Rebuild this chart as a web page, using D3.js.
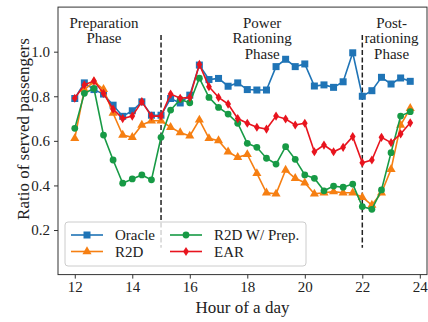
<!DOCTYPE html>
<html>
<head>
<meta charset="utf-8">
<script src="https://cdn.jsdelivr.net/npm/d3@7"></script>
<style>
  body { margin: 0; background: #fff; }
  text { font-family: "Liberation Serif", "Times New Roman", serif; fill: #222; }
</style>
</head>
<body>
<div id="chart"></div>
<script>
// Hour of a day (one point every 20 minutes)
const hours = [12.000, 12.333, 12.667, 13.000, 13.333, 13.667, 14.000, 14.333, 14.667,
               15.000, 15.333, 15.667, 16.000, 16.333, 16.667, 17.000, 17.333, 17.667,
               18.000, 18.333, 18.667, 19.000, 19.333, 19.667, 20.000, 20.333, 20.667,
               21.000, 21.333, 21.667, 22.000, 22.333, 22.667, 23.000, 23.333, 23.667];

const oracle = [0.79, 0.86, 0.83, 0.81, 0.76, 0.71, 0.735, 0.775, 0.715, 0.715, 0.79, 0.77,
                0.805, 0.94, 0.875, 0.88, 0.845, 0.86, 0.83, 0.828, 0.828, 0.933, 0.966, 0.933,
                0.945, 0.846, 0.851, 0.84, 0.865, 0.995, 0.80, 0.825, 0.885, 0.855, 0.882, 0.867];

const r2d = [0.611, 0.83, 0.865, 0.831, 0.724, 0.626, 0.616, 0.671, 0.69, 0.69, 0.661, 0.637,
             0.622, 0.694, 0.611, 0.601, 0.551, 0.526, 0.539, 0.454, 0.367, 0.362, 0.469, 0.432,
             0.412, 0.362, 0.367, 0.372, 0.367, 0.367, 0.347, 0.312, 0.367, 0.472, 0.671, 0.746];

const r2dPrep = [0.656, 0.813, 0.835, 0.626, 0.514, 0.41, 0.429, 0.447, 0.425, 0.616, 0.738, 0.786,
                 0.771, 0.881, 0.795, 0.75, 0.72, 0.679, 0.589, 0.571, 0.522, 0.496, 0.574, 0.517,
                 0.447, 0.432, 0.376, 0.397, 0.392, 0.406, 0.305, 0.293, 0.38, 0.547, 0.711, 0.731];

const ear = [0.791, 0.851, 0.869, 0.813, 0.742, 0.70, 0.711, 0.776, 0.711, 0.711, 0.81, 0.791,
             0.795, 0.943, 0.843, 0.795, 0.765, 0.70, 0.679, 0.661, 0.653, 0.711, 0.698, 0.671,
             0.679, 0.551, 0.581, 0.551, 0.571, 0.619, 0.502, 0.514, 0.616, 0.592, 0.631, 0.681];

const xTicks = [12, 14, 16, 18, 20, 22, 24];
const yTicks = [0.2, 0.4, 0.6, 0.8, 1.0];
const phaseBreaks = [15, 22];
const phases = [
  {hour: 13.0, lines: ["Preparation", "Phase"]},
  {hour: 18.5, lines: ["Power", "Rationing", "Phase"]},
  {hour: 23.0, lines: ["Post-", "rationing", "Phase"]}
];

const series = [
  {name: "Oracle", values: oracle, color: "#1f74b6", marker: "square"},
  {name: "R2D", values: r2d, color: "#f67f12", marker: "triangle"},
  {name: "R2D W/ Prep.", values: r2dPrep, color: "#179a45", marker: "circle"},
  {name: "EAR", values: ear, color: "#e8141e", marker: "diamond"}
];

const W = 428, H = 322;
const svg = d3.select("#chart").append("svg")
    .attr("width", W)
    .attr("height", H);

// Scales (matplotlib-like 5% margins on x)
const x = d3.scaleLinear().domain([11.4167, 24.25]).range([58, 427]);
const y = d3.scaleLinear().domain([0, 1.2]).range([274.6, 7.1]);

// Axes
const xAxis = svg.append("g")
    .attr("transform", `translate(0,${y(0)})`)
    .call(d3.axisBottom(x).tickValues(xTicks).tickSize(4).tickPadding(3).tickFormat(d3.format("d")));
const yAxis = svg.append("g")
    .attr("transform", `translate(${x.range()[0]},0)`)
    .call(d3.axisLeft(y).tickValues(yTicks).tickSize(4).tickPadding(4).tickFormat(d3.format(".1f")));
[xAxis, yAxis].forEach(a => {
  a.select(".domain").remove();
  a.selectAll(".tick line").attr("stroke", "#333");
  a.selectAll(".tick text").style("font-size", "15px").attr("fill", "#222");
});

// Phase separators
svg.selectAll("line.phase")
  .data(phaseBreaks)
  .enter().append("line")
    .attr("x1", d => x(d)).attr("x2", d => x(d))
    .attr("y1", y(1.075)).attr("y2", y(0.12))
    .attr("stroke", "#222")
    .attr("stroke-width", 1.5)
    .attr("stroke-dasharray", "5,2.5");

// Phase labels
phases.forEach(p => {
  const t = svg.append("text")
    .attr("text-anchor", "middle")
    .style("font-size", "15px");
  p.lines.forEach((l, i) => {
    t.append("tspan")
      .attr("x", x(p.hour) + 0.5)
      .attr("y", 27.5 + i * 15.5)
      .text(l);
  });
});

// Marker shapes
function marker(sel, type, color) {
  if (type === "circle") {
    sel.append("circle").attr("r", 3.4).attr("fill", color);
  } else if (type === "square") {
    sel.append("rect").attr("x", -3.5).attr("y", -3.5).attr("width", 7).attr("height", 7).attr("fill", color);
  } else if (type === "triangle") {
    sel.append("path").attr("d", d3.symbol(d3.symbolTriangle, 36)()).attr("fill", color);
  } else {
    sel.append("path").attr("d", "M0,-4.6L2.9,0L0,4.6L-2.9,0Z").attr("fill", color);
  }
}

const line = d3.line()
    .x(d => x(d[0]))
    .y(d => y(d[1]));

series.forEach(s => {
  const pts = hours.map((h, i) => [h, s.values[i]]);
  svg.append("path")
    .datum(pts)
    .attr("fill", "none")
    .attr("stroke", s.color)
    .attr("stroke-width", 1.6)
    .attr("d", line);

  svg.append("g").selectAll("g")
    .data(pts)
    .enter().append("g")
      .attr("transform", d => `translate(${x(d[0])},${y(d[1])})`)
      .each(function() { marker(d3.select(this), s.marker, s.color); });
});

// Frame
svg.append("rect")
  .attr("x", x.range()[0])
  .attr("y", y.range()[1])
  .attr("width", x.range()[1] - x.range()[0])
  .attr("height", y.range()[0] - y.range()[1])
  .attr("fill", "none")
  .attr("stroke", "#333")
  .attr("stroke-width", 1);

// Axis labels
svg.append("text")
  .attr("x", (x.range()[0] + x.range()[1]) / 2)
  .attr("y", 313)
  .attr("text-anchor", "middle")
  .style("font-size", "17px")
  .text("Hour of a day");

svg.append("text")
  .attr("transform", "translate(29,129) rotate(-90)")
  .attr("text-anchor", "middle")
  .style("font-size", "17px")
  .text("Ratio of served passengers");

// Legend (2 columns)
const legend = svg.append("g");
legend.append("rect")
  .attr("x", 65).attr("y", 222)
  .attr("width", 241).attr("height", 44)
  .attr("rx", 3)
  .attr("fill", "#fff").attr("fill-opacity", 0.8)
  .attr("stroke", "#ccc").attr("stroke-width", 1);

const item = legend.selectAll("g.item")
  .data(series)
  .enter().append("g")
    .attr("transform", (d, i) => `translate(${i < 2 ? 71 : 170},${i % 2 === 0 ? 235 : 251.5})`);

item.append("line")
  .attr("x1", 0).attr("x2", 32)
  .attr("stroke", d => d.color)
  .attr("stroke-width", 1.6);
item.append("g")
  .attr("transform", "translate(16,0)")
  .each(function(d) { marker(d3.select(this), d.marker, d.color); });
item.append("text")
  .attr("x", 44)
  .attr("y", 5)
  .style("font-size", "15px")
  .text(d => d.name);
</script>
</body>
</html>
